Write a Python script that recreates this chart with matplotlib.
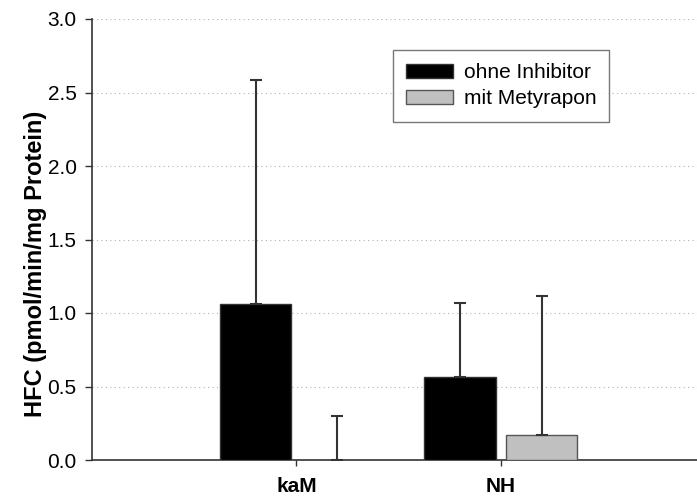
import numpy as np
import matplotlib.pyplot as plt

plt.rcParams['font.family'] = ['Liberation Sans', 'DejaVu Sans']

# Daten
gruppen = ['kaM', 'NH']
ohne_inhibitor = [1.06, 0.567]
ohne_inhibitor_err = [1.525, 0.503]
mit_metyrapon = [0.0, 0.17]
mit_metyrapon_err = [0.30, 0.946]
y_ticks = [0.0, 0.5, 1.0, 1.5, 2.0, 2.5, 3.0]

x = np.arange(len(gruppen))
breite = 0.35
versatz = 0.2

fig = plt.figure(figsize=(6.97, 5.0), dpi=100)
ax = fig.add_axes([92 / 697, 40 / 500, 1 - 92 / 697, 441 / 500])

ax.bar(x - versatz, ohne_inhibitor, breite, color='black', edgecolor='#333333',
       linewidth=1, label='ohne Inhibitor', zorder=3)
ax.bar(x + versatz, mit_metyrapon, breite, color='#c0c0c0', edgecolor='#555555',
       linewidth=1, label='mit Metyrapon', zorder=3)

# Fehlerbalken nur nach oben
ax.errorbar(x - versatz, ohne_inhibitor, yerr=[np.zeros(2), ohne_inhibitor_err],
            fmt='none', ecolor='#333333', elinewidth=1.5, capsize=4.5, capthick=1.5, zorder=4)
ax.errorbar(x + versatz, mit_metyrapon, yerr=[np.zeros(2), mit_metyrapon_err],
            fmt='none', ecolor='#333333', elinewidth=1.5, capsize=4.5, capthick=1.5, zorder=4)

ax.set_ylim(0, 3.0)
ax.set_xlim(-1.0, 1.96)
ax.set_yticks(y_ticks)
ax.set_yticklabels([f'{v:.1f}' for v in y_ticks], fontsize=15)
ax.set_xticks(x)
ax.set_xticklabels(gruppen, fontsize=15, fontweight='bold')
ax.tick_params(axis='y', length=5, width=1, color='#333333', pad=6)
ax.tick_params(axis='x', length=4.5, width=1, color='#333333', pad=8)

for v in y_ticks[1:]:
    ax.axhline(v, color='#b0b0b0', linestyle=(0, (1, 3)), linewidth=0.8, zorder=1)

ax.spines['top'].set_visible(False)
ax.spines['right'].set_visible(False)
ax.spines['left'].set_color('#333333')
ax.spines['bottom'].set_color('#333333')
ax.spines['left'].set_linewidth(1.2)
ax.spines['bottom'].set_linewidth(1.2)

ax.set_ylabel('HFC (pmol/min/mg Protein)', fontsize=17, fontweight='bold')
ax.yaxis.set_label_coords(-0.074, 0.444)

leg = ax.legend(loc='upper left', bbox_to_anchor=(301 / 605, 1 - 31 / 441),
                fontsize=15, frameon=True, fancybox=False, edgecolor='#555555',
                handlelength=2.26, handleheight=0.62, borderpad=0.63, labelspacing=0.35,
                handletextpad=0.5, borderaxespad=0)
leg.get_frame().set_linewidth(1)

fig.savefig('out.png', dpi=100)
